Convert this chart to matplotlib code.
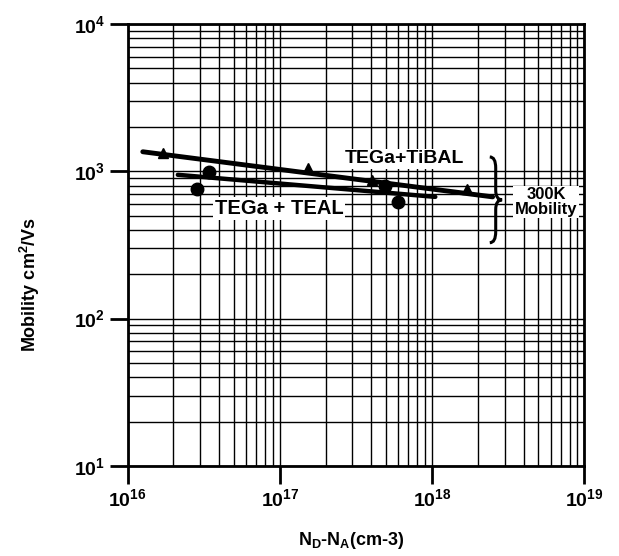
import matplotlib
matplotlib.use("Agg")
import matplotlib.pyplot as plt
from matplotlib.ticker import FixedLocator, LogLocator, NullFormatter
from matplotlib.path import Path
from matplotlib.patches import PathPatch

plt.rcParams['font.family'] = ['Liberation Sans', 'DejaVu Sans']
plt.rcParams['font.weight'] = 'bold'
plt.rcParams['mathtext.fontset'] = 'custom'
plt.rcParams['mathtext.rm'] = 'Liberation Sans:bold'
plt.rcParams['mathtext.it'] = 'Liberation Sans:bold'
plt.rcParams['mathtext.bf'] = 'Liberation Sans:bold'

# Data
tibal_x = [1.71e16, 1.53e17, 4.04e17, 1.70e18]
tibal_y = [1334, 1055, 870, 760]
tibal_fit_x = [1.26e16, 2.5e18]
tibal_fit_y = [1356, 670]

teal_x = [2.86e16, 3.43e16, 4.9e17, 5.98e17]
teal_y = [759, 991, 800, 620]
teal_fit_x = [2.14e16, 1.05e18]
teal_fit_y = [946, 670]

x_ticks = [1e16, 1e17, 1e18, 1e19]
x_labels = ['10$^{16}$', '10$^{17}$', '10$^{18}$', '10$^{19}$']
y_ticks = [1e1, 1e2, 1e3, 1e4]
y_labels = ['10$^{1}$', '10$^{2}$', '10$^{3}$', '10$^{4}$']

fig = plt.figure(figsize=(6.19, 5.56), dpi=100)
ax = fig.add_axes([0.206, 0.162, 0.738, 0.795])
ax.set_xscale('log')
ax.set_yscale('log')
ax.set_xlim(1e16, 1e19)
ax.set_ylim(1e1, 1e4)

ax.xaxis.set_major_locator(FixedLocator(x_ticks))
ax.yaxis.set_major_locator(FixedLocator(y_ticks))
ax.set_xticklabels(x_labels)
ax.set_yticklabels(y_labels)
ax.xaxis.set_minor_locator(LogLocator(base=10, subs=range(2, 10), numticks=50))
ax.yaxis.set_minor_locator(LogLocator(base=10, subs=range(2, 10), numticks=50))
ax.xaxis.set_minor_formatter(NullFormatter())
ax.yaxis.set_minor_formatter(NullFormatter())

ax.grid(True, which='both', color='black', linewidth=1.0)
ax.tick_params(which='major', direction='out', length=13, width=2, labelsize=14, pad=3)
ax.tick_params(which='minor', length=0)
for s in ax.spines.values():
    s.set_linewidth(2)
ax.set_axisbelow(True)

# fit lines
ax.plot(tibal_fit_x, tibal_fit_y, color='black', linewidth=3.5, solid_capstyle='round', zorder=4)
ax.plot(teal_fit_x, teal_fit_y, color='black', linewidth=3.2, solid_capstyle='round', zorder=4)
# data points
ax.plot(tibal_x, tibal_y, linestyle='none', marker='^', markersize=7, color='black', zorder=5)
ax.plot(teal_x, teal_y, linestyle='none', marker='o', markersize=9, color='black', zorder=5)

# annotations
ax.text(6.6e17, 1213, 'TEGa+TiBAL', fontsize=14, fontweight='bold', ha='center', va='center',
        zorder=6, bbox=dict(facecolor='white', edgecolor='none', pad=1.0))
ax.text(9.9e16, 556, 'TEGa + TEAL', fontsize=14.5, fontweight='bold', ha='center', va='center',
        zorder=6, bbox=dict(facecolor='white', edgecolor='none', pad=1.5))
ax.text(5.6e18, 620, '300K\nMobility', fontsize=12, fontweight='bold', ha='center', va='center',
        linespacing=1.0, zorder=6, bbox=dict(facecolor='white', edgecolor='none', pad=1.0))

# curly brace drawn as a path (axes-fraction coordinates)
xl, xm, xt = 0.793, 0.806, 0.820
yt, ymid, yb = 0.699, 0.602, 0.505
verts = [(xl, yt), (xm, yt), (xm, yt - 0.025),
         (xm, ymid + 0.022),
         (xm, ymid), (xt, ymid),
         (xm, ymid), (xm, ymid - 0.022),
         (xm, yb + 0.025),
         (xm, yb), (xl, yb)]
codes = [Path.MOVETO, Path.CURVE3, Path.CURVE3,
         Path.LINETO,
         Path.CURVE3, Path.CURVE3,
         Path.CURVE3, Path.CURVE3,
         Path.LINETO,
         Path.CURVE3, Path.CURVE3]
ax.add_patch(PathPatch(Path(verts, codes), transform=ax.transAxes, fill=False,
                       edgecolor='black', linewidth=2.2, zorder=6, clip_on=False))

ax.set_xlabel('N$_{D}$-N$_{A}$(cm-3)', fontsize=13, fontweight='bold')
ax.xaxis.set_label_coords(0.49, -0.145)
ax.set_ylabel('Mobility cm$^{2}$/Vs', fontsize=13, fontweight='bold')
ax.yaxis.set_label_coords(-0.187, 0.41)

fig.savefig('out.png', dpi=100)
